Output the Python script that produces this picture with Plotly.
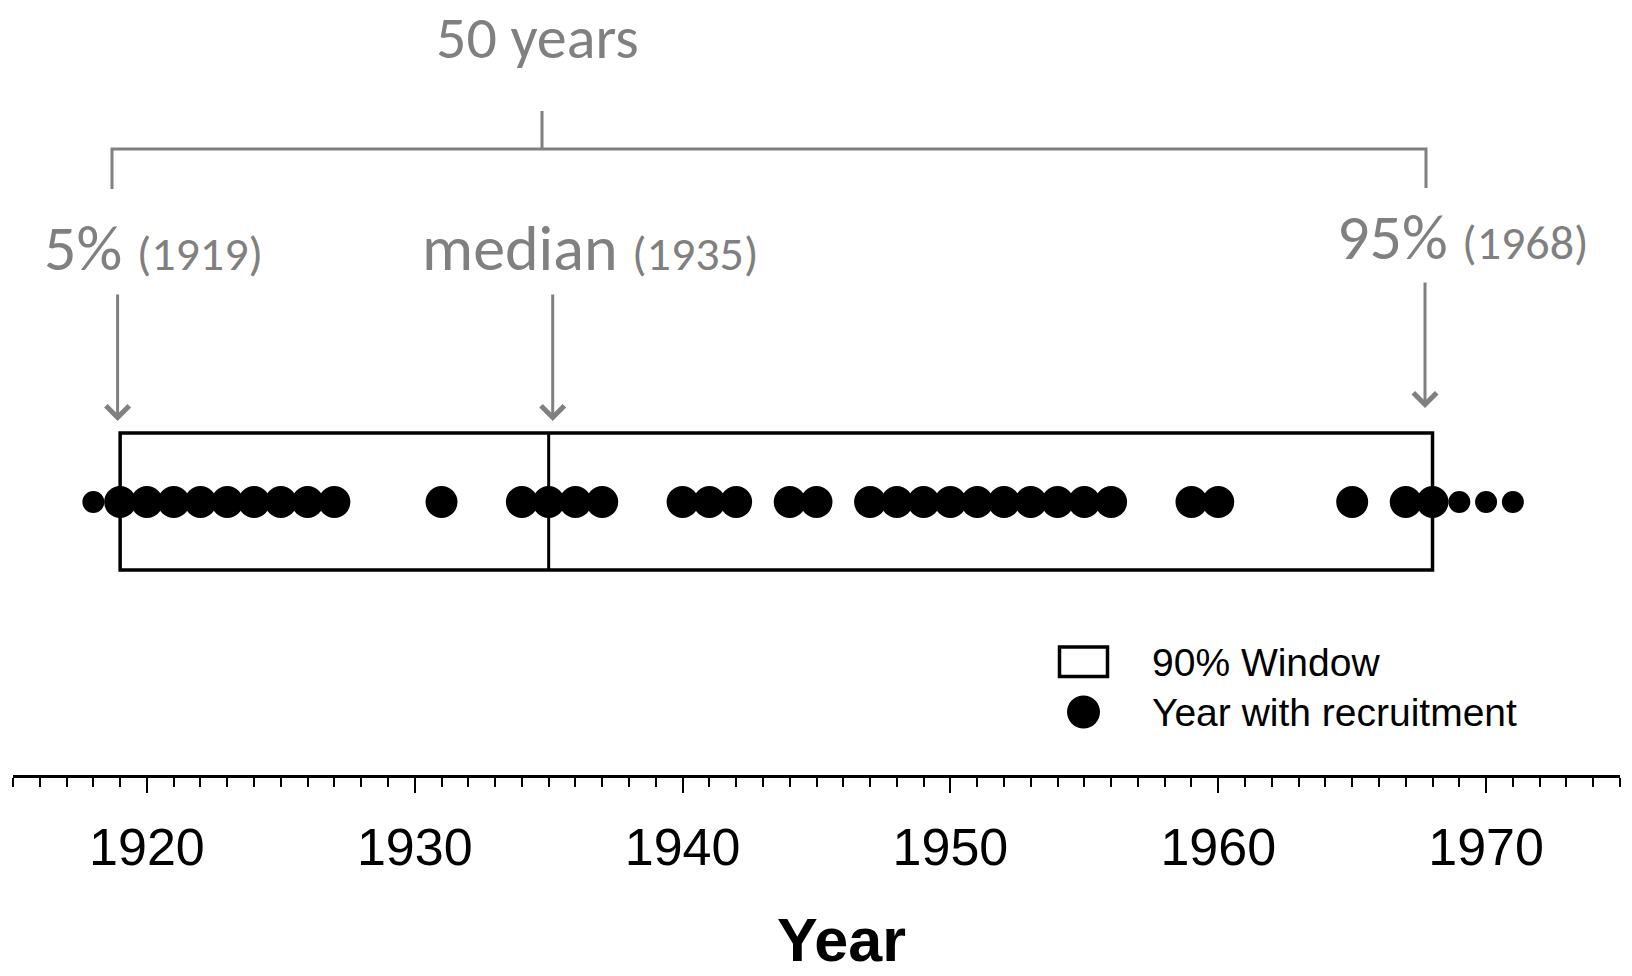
import plotly.graph_objects as go

# ---------------- data ----------------
recruit_years_in = [1919, 1920, 1921, 1922, 1923, 1924, 1925, 1926, 1927,
                    1931, 1934, 1935, 1936, 1937, 1940, 1941, 1942, 1944, 1945,
                    1947, 1948, 1949, 1950, 1951, 1952, 1953, 1954, 1955, 1956,
                    1959, 1960, 1965, 1967, 1968]
recruit_years_out = [1918, 1969, 1970, 1971]
window_start = 1919
window_end = 1968
median_year = 1935
span_years = 50
x_tick_vals = [1920, 1930, 1940, 1950, 1960, 1970]
x_range = [1915, 1975]

# ---------------- page geometry (pixels) ----------------
W, H = 1632, 976
L, R = 13, 1620      # plot area left/right
T, B = 0, 775        # plot area top/bottom (x-axis line)


def px(x):
    return (x - L) / (R - L)


def py(y):
    return (B - y) / (B - T)


GRAY = "#808080"
CAL = "Carlito, Lato, sans-serif"
ARIAL = "Liberation Sans, Arial, sans-serif"

ROW_Y = 502          # row of dots (pixel-like y units)
BOX_TOP, BOX_BOT = 433, 570

fig = go.Figure()

fig.add_trace(go.Scatter(
    x=recruit_years_in, y=[ROW_Y] * len(recruit_years_in), mode="markers",
    marker=dict(size=32, color="black", line=dict(width=0)),
    name="Year with recruitment", showlegend=False, cliponaxis=False))
fig.add_trace(go.Scatter(
    x=recruit_years_out, y=[ROW_Y] * len(recruit_years_out), mode="markers",
    marker=dict(size=22, color="black", line=dict(width=0)),
    name="Outside window", showlegend=False, cliponaxis=False))

shapes = [
    # 90% window box
    dict(type="rect", xref="x", yref="y", x0=window_start, x1=window_end,
         y0=BOX_TOP, y1=BOX_BOT, line=dict(color="black", width=3.5),
         fillcolor="rgba(0,0,0,0)", layer="below"),
    # median line
    dict(type="line", xref="x", yref="y", x0=median_year, x1=median_year,
         y0=BOX_TOP, y1=BOX_BOT, line=dict(color="black", width=3), layer="below"),
    # bracket
    dict(type="path", xref="paper", yref="y",
         path=f"M {px(112)},189 V 149 H {px(1426)} V 188 M {px(542)},149 V 111",
         line=dict(color=GRAY, width=3)),
    # legend symbols
    dict(type="rect", xref="paper", yref="y", x0=px(1059.5), x1=px(1107.5),
         y0=647, y1=676.5, line=dict(color="black", width=3.5),
         fillcolor="white"),
    dict(type="circle", xref="paper", yref="y", x0=px(1067), x1=px(1100),
         y0=695.5, y1=728.5, line=dict(width=0), fillcolor="black"),
]

annotations = []
# arrows
for xpx, y_tip, length in [(117.6, 421, 128), (552.7, 421, 128), (1425, 408, 127)]:
    annotations.append(dict(
        x=px(xpx), y=y_tip, xref="paper", yref="y", text="", showarrow=True,
        ax=0, ay=-length, axref="pixel", ayref="pixel",
        arrowhead=4, arrowsize=1.5, arrowwidth=3, arrowcolor=GRAY))

annotations.append(dict(x=px(537), y=37, xref="paper", yref="y",
                        text=f"{span_years} years", showarrow=False,
                        xanchor="center", yanchor="middle",
                        font=dict(family=CAL, size=60, color=GRAY)))

small = "font-size:48px"
for xpx, ypx, big, yr in [(42, 248, "5%", window_start),
                          (420, 248, "median", median_year),
                          (1335, 237, "95%", window_end)]:
    annotations.append(dict(
        x=px(xpx), y=ypx, xref="paper", yref="y",
        text=f"{big} <span style='{small}'>({yr})</span>", showarrow=False,
        xanchor="left", yanchor="middle",
        font=dict(family=CAL, size=64, color=GRAY)))

# legend texts
annotations.append(dict(x=px(1150), y=662, xref="paper", yref="y",
                        text="90% Window", showarrow=False,
                        xanchor="left", yanchor="middle",
                        font=dict(family=ARIAL, size=39, color="black")))
annotations.append(dict(x=px(1150), y=712, xref="paper", yref="y",
                        text="Year with recruitment", showarrow=False,
                        xanchor="left", yanchor="middle",
                        font=dict(family=ARIAL, size=39, color="black")))

# axis title
annotations.append(dict(x=px(841.5), y=py(940), xref="paper", yref="paper",
                        text="<b>Year</b>", showarrow=False,
                        xanchor="center", yanchor="middle",
                        font=dict(family=ARIAL, size=61, color="black")))

fig.update_layout(
    width=W, height=H,
    margin=dict(l=L, r=W - R, t=T, b=H - B, pad=0),
    paper_bgcolor="white", plot_bgcolor="white",
    showlegend=False,
    shapes=shapes, annotations=annotations,
    xaxis=dict(range=x_range, showgrid=False, zeroline=False,
               showline=True, linecolor="black", linewidth=2.5,
               ticks="outside", ticklen=15, tickwidth=2, tickcolor="black",
               tickvals=x_tick_vals, ticktext=[str(v) for v in x_tick_vals],
               ticklabelstandoff=10,
               tickfont=dict(family=ARIAL, size=52, color="black"),
               minor=dict(ticks="outside", ticklen=9, tickwidth=2,
                          tickcolor="black", dtick=1, tick0=1915, showgrid=False)),
    yaxis=dict(range=[B, T], visible=False, showgrid=False, zeroline=False),
)

fig.write_html("out.html", config={"displayModeBar": False},
               post_script="document.body.style.margin='0';document.body.style.overflow='hidden';")
